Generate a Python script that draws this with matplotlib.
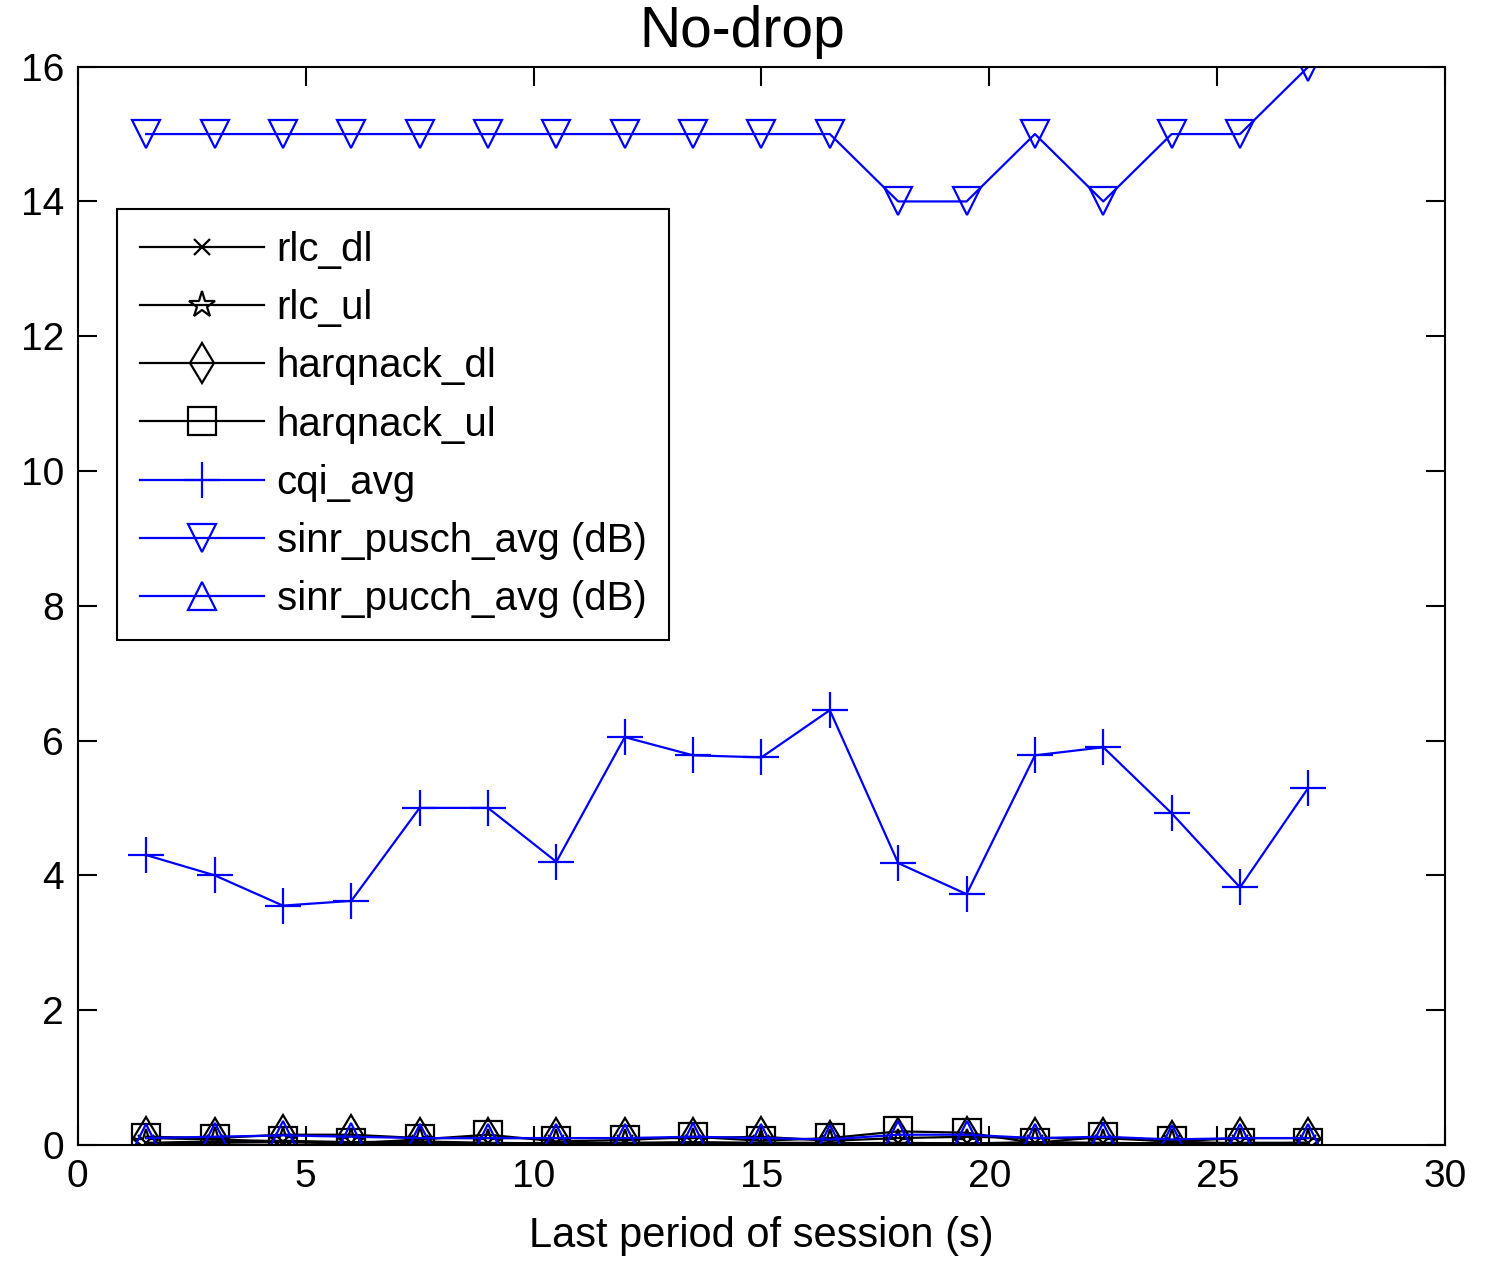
import numpy as np
import matplotlib
matplotlib.use("Agg")
import matplotlib.pyplot as plt

plt.rcParams['font.family'] = ['Liberation Sans', 'DejaVu Sans']

# session time points (s)
t = [1.5, 3, 4.5, 6, 7.5, 9, 10.5, 12, 13.5, 15, 16.5, 18, 19.5, 21, 22.5, 24, 25.5, 27]

rlc_dl = [0.02, 0.03, 0.04, 0.02, 0.03, 0.02, 0.03, 0.02, 0.03, 0.02, 0.02, 0.03, 0.02, 0.03, 0.02, 0.03, 0.02, 0.02]
rlc_ul = [0.03, 0.05, 0.06, 0.04, 0.05, 0.03, 0.02, 0.03, 0.04, 0.03, 0.03, 0.02, 0.02, 0.04, 0.03, 0.02, 0.03, 0.03]
harqnack_dl = [0.12, 0.1, 0.15, 0.15, 0.1, 0.1, 0.1, 0.1, 0.1, 0.12, 0.06, 0.1, 0.12, 0.1, 0.1, 0.05, 0.1, 0.1]
harqnack_ul = [0.1, 0.08, 0.05, 0.02, 0.08, 0.15, 0.05, 0.07, 0.12, 0.06, 0.1, 0.2, 0.18, 0.03, 0.12, 0.05, 0.02, 0.03]
cqi_avg = [4.3, 4.0, 3.55, 3.62, 5.0, 5.0, 4.2, 6.05, 5.78, 5.75, 6.45, 4.18, 3.72, 5.78, 5.9, 4.92, 3.82, 5.3]
sinr_pusch = [15, 15, 15, 15, 15, 15, 15, 15, 15, 15, 15, 14, 14, 15, 14, 15, 15, 16]
sinr_pucch = [0.1, 0.12, 0.14, 0.12, 0.1, 0.1, 0.1, 0.1, 0.12, 0.1, 0.08, 0.15, 0.15, 0.1, 0.12, 0.08, 0.1, 0.1]

fig = plt.figure(figsize=(14.96, 12.82), dpi=100)
ax = fig.add_axes([0.052, 0.107, 0.914, 0.841])

ms = 20
mk = dict(linewidth=1.6, markersize=ms, markerfacecolor='none', markeredgewidth=1.6)
ax.plot(t, rlc_dl, color='k', marker='x', label='rlc_dl', **{**mk, 'markersize': 12})
ax.plot(t, rlc_ul, color='k', marker='*', label='rlc_ul', **mk)
ax.plot(t, harqnack_dl, color='k', marker='d', label='harqnack_dl', **mk)
ax.plot(t, harqnack_ul, color='k', marker='s', label='harqnack_ul', **mk)
ax.plot(t, cqi_avg, color='#0000ff', marker='+', label='cqi_avg', **{**mk, 'markersize': 26})
ax.plot(t, sinr_pusch, color='#0000ff', marker='v', label='sinr_pusch_avg (dB)', **mk)
ax.plot(t, sinr_pucch, color='#0000ff', marker='^', label='sinr_pucch_avg (dB)', **mk)

ax.set_xlim(0, 30)
ax.set_ylim(0, 16)
ax.set_xticks(range(0, 31, 5))
ax.set_yticks(range(0, 17, 2))
ax.tick_params(direction='in', length=14, width=1.5, labelsize=28, top=True, right=True, pad=10)
for s in ax.spines.values():
    s.set_linewidth(1.5)

ax.set_title('No-drop', fontsize=41, pad=14, x=0.486)
ax.set_xlabel('Last period of session (s)', fontsize=30, labelpad=15)

leg = ax.legend(loc='upper left', bbox_to_anchor=(0.029, 0.868), borderaxespad=0, fontsize=29,
                handlelength=3.1, labelspacing=0.5, borderpad=0.55,
                fancybox=False, framealpha=1, edgecolor='k', handletextpad=0.3)
leg.get_frame().set_linewidth(1.5)

fig.savefig('out.png', dpi=100)
